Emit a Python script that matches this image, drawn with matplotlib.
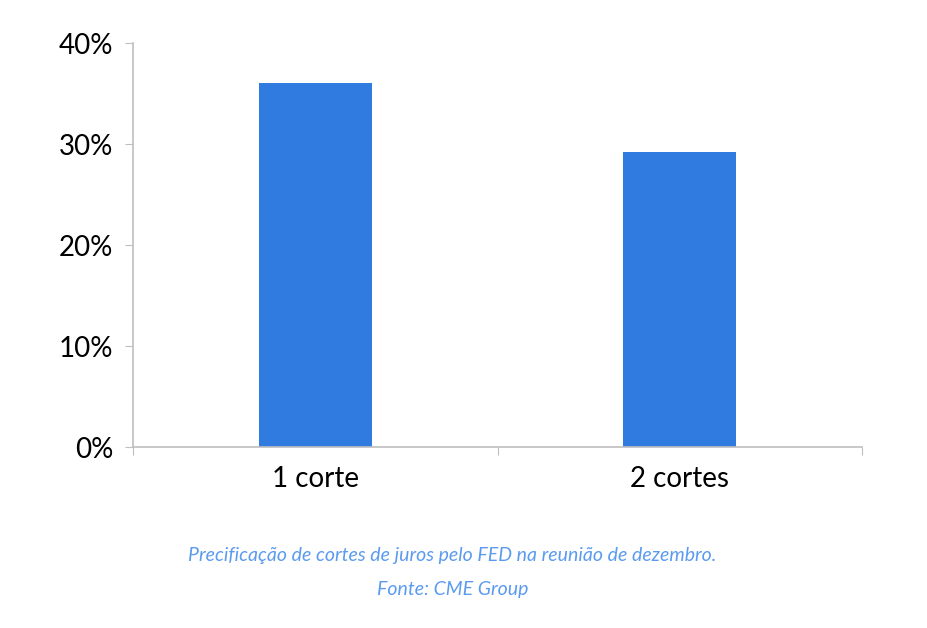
import matplotlib
matplotlib.use("Agg")
import matplotlib.pyplot as plt
from matplotlib.ticker import FuncFormatter

categories = ["1 corte", "2 cortes"]
values = [36.0, 29.2]
yticks = [0, 10, 20, 30, 40]

plt.rcParams['font.family'] = ['Lato', 'DejaVu Sans']
fig = plt.figure(figsize=(9.27, 6.28), dpi=100)
ax = fig.add_axes([0.1435, 0.2882, 0.7864, 0.6433])
ax.bar([0.5, 1.5], values, width=0.31, color="#2f7be0")
ax.set_xlim(0, 2)
ax.set_ylim(0, 40)
ax.set_yticks(yticks)
ax.yaxis.set_major_formatter(FuncFormatter(lambda v, p: f"{v:.0f}%"))
ax.set_xticks([0, 1, 2])
ax.set_xticklabels([])
ax.set_xticks([0.5, 1.5], minor=True)
ax.set_xticklabels(categories, minor=True)
ax.tick_params(axis='x', which='minor', length=0, labelsize=20, pad=14)
ax.tick_params(axis='x', which='major', length=6, color="#bfbfbf")
ax.tick_params(axis='y', length=6, color="#bfbfbf", labelsize=20, pad=8)
for s in ["top", "right"]:
    ax.spines[s].set_visible(False)
for s in ["left", "bottom"]:
    ax.spines[s].set_color("#bfbfbf")
    ax.spines[s].set_linewidth(1.2)
fig.text(0.488, 0.115, "Precificação de cortes de juros pelo FED na reunião de dezembro.",
         ha="center", va="center", style="italic", color="#5b9bef", fontsize=14)
fig.text(0.488, 0.062, "Fonte: CME Group", ha="center", va="center",
         style="italic", color="#5b9bef", fontsize=14)
fig.savefig("out.png", dpi=100)
